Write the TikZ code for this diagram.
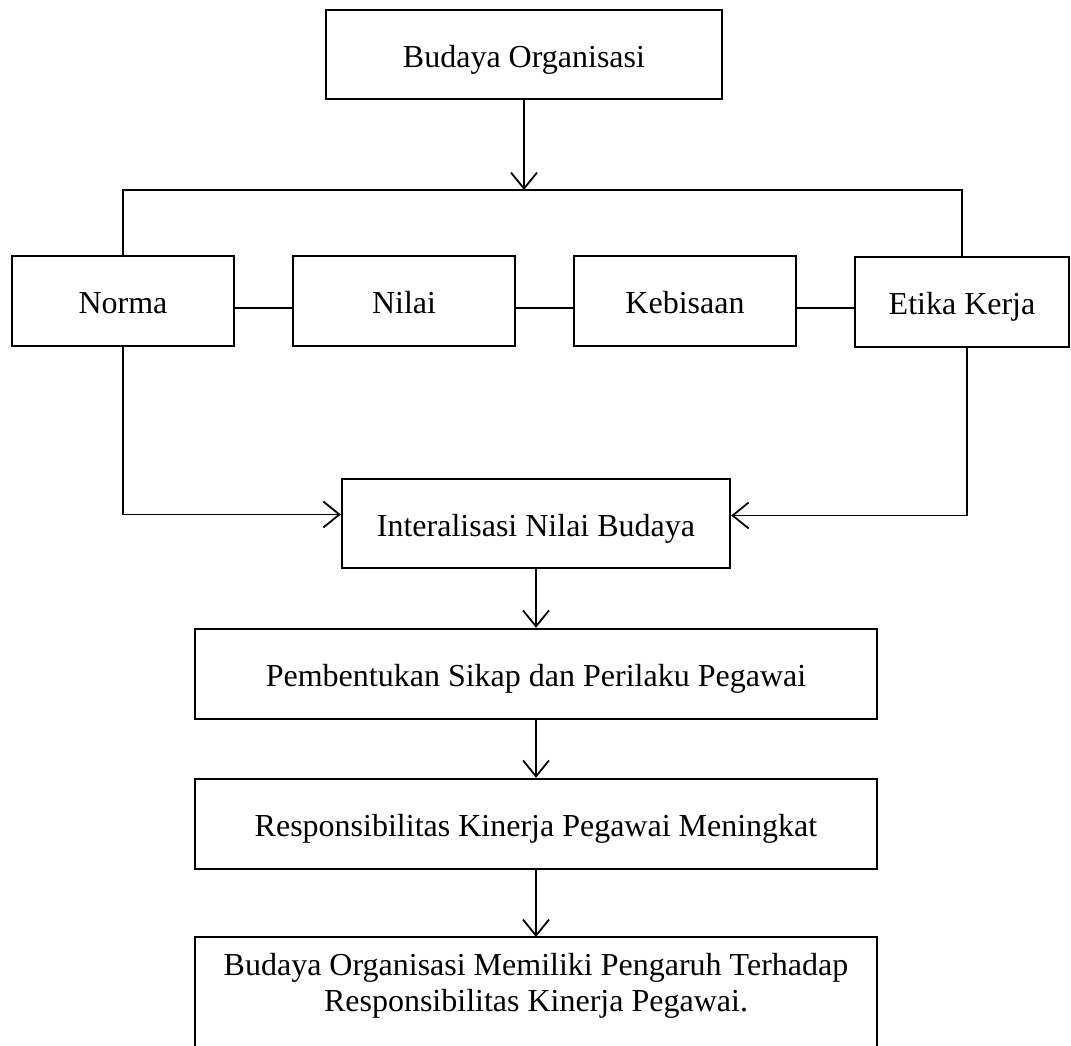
\documentclass[tikz,border=0pt]{standalone}
\usepackage{fontspec}
\setmainfont{Liberation Serif}
\usetikzlibrary{arrows.meta}
\begin{document}
\begin{tikzpicture}[x=1pt,y=-1pt,
  txt/.style={font=\fontsize{32}{36}\selectfont},
  box/.style={txt, draw, line width=2.4pt, inner sep=0pt, text height=25pt, text depth=0pt},
  boxline/.style={line width=2.4pt},
  conn/.style={line width=1.8pt},
  arr/.style={conn, -{Straight Barb[length=16pt,width=26pt]}}]
\useasboundingbox (0,0) rectangle (1071,1045);
\clip (0,0) rectangle (1071,1045);

\node[box, minimum width=396pt, minimum height=89pt] (bo) at (524,54.5) {Budaya Organisasi};

\node[box, minimum width=222pt, minimum height=90pt] (norma) at (123,301) {Norma};
\node[box, minimum width=222pt, minimum height=90pt] (nilai) at (404,301) {Nilai};
\node[box, minimum width=222pt, minimum height=90pt] (keb) at (685,301) {Kebisaan};
\node[box, minimum width=214pt, minimum height=90pt] (etika) at (962,302) {Etika Kerja};

\node[box, minimum width=388pt, minimum height=89pt] (inter) at (536,523.5) {Interalisasi Nilai Budaya};
\node[box, minimum width=682pt, minimum height=90pt] (pemb) at (536,674) {Pembentukan Sikap dan Perilaku Pegawai};
\node[box, minimum width=682pt, minimum height=90pt] (resp) at (536,824) {Responsibilitas Kinerja Pegawai Meningkat};

\coordinate (ftop) at (536,937);
\node[txt, align=center] (final) at (536,986) {Budaya Organisasi Memiliki Pengaruh Terhadap\\Responsibilitas Kinerja Pegawai.};
\draw[boxline] (195,1060) |- (ftop) -| (877,1060);

\coordinate (bar) at (124,190);
\draw[arr] (bo.south) -- (bo.south |- bar);
\draw[conn] (norma.north) |- (etika.north |- bar) -- (etika.north);

\draw[conn] ([yshift=-7pt]norma.east) -- ([yshift=-7pt]nilai.west);
\draw[conn] ([yshift=-7pt]nilai.east) -- ([yshift=-7pt]keb.west);
\draw[conn] ([yshift=-7pt]keb.east) -- ([yshift=-7pt]keb.east -| etika.west);

\draw[arr] (norma.south) |- ([yshift=9pt]inter.west);
\draw[arr] ([xshift=5pt]etika.south) |- ([yshift=8pt]inter.east);

\draw[arr] (inter.south) -- (pemb.north);
\draw[arr] (pemb.south) -- (resp.north);
\draw[arr] (resp.south) -- (ftop);
\end{tikzpicture}
\end{document}
